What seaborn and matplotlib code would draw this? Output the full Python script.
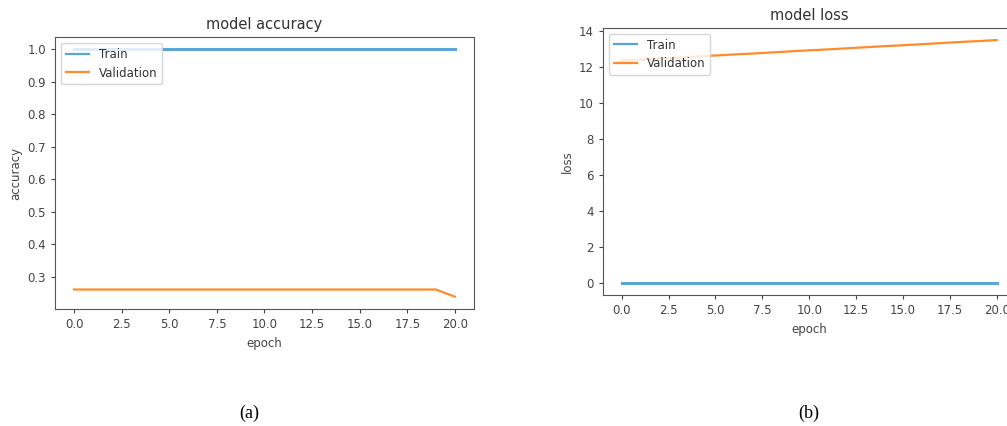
import numpy as np
import pandas as pd
import seaborn as sns
import matplotlib.pyplot as plt

# training history
epochs = list(range(21))
train_acc = [1.0] * 21
val_acc = [0.26] * 20 + [0.238]
train_loss = [0.0] * 21
val_loss = [12.35, 12.41, 12.47, 12.52, 12.58, 12.64, 12.70, 12.75, 12.81, 12.87,
             12.93, 12.98, 13.04, 13.10, 13.16, 13.21, 13.27, 13.33, 13.39, 13.44, 13.50]

acc_df = pd.DataFrame({'epoch': epochs * 2,
                       'value': train_acc + val_acc,
                       'set': ['Train'] * 21 + ['Validation'] * 21})
loss_df = pd.DataFrame({'epoch': epochs * 2,
                        'value': train_loss + val_loss,
                        'set': ['Train'] * 21 + ['Validation'] * 21})

plt.rcParams['font.family'] = 'DejaVu Sans'
palette = {'Train': '#5aa5d6', 'Validation': '#ff8c2a'}

fig = plt.figure(figsize=(10.07, 4.26), dpi=100)
ax1 = fig.add_axes([0.0546, 0.2746, 0.416, 0.6385])
ax2 = fig.add_axes([0.5988, 0.3075, 0.4096, 0.627])

for ax, df, title, ylab in [(ax1, acc_df, 'model accuracy', 'accuracy'),
                            (ax2, loss_df, 'model loss', 'loss')]:
    sns.lineplot(data=df, x='epoch', y='value', hue='set', palette=palette,
                 ax=ax, linewidth=1.6)
    ax.lines[0].set_linewidth(2.2)
    ax.set_title(title, fontsize=10.5, color='#333333')
    ax.set_xlabel('epoch', fontsize=8.5, color='#444444')
    ax.set_ylabel(ylab, fontsize=8.5, color='#444444')
    ax.tick_params(labelsize=8.5, colors='#444444', length=3)
    for s in ax.spines.values():
        s.set_color('#555555')
    ax.legend(loc='upper left', fontsize=8.5, labelcolor='#333333')

ax1.set_xticks(np.arange(0, 20.1, 2.5))
ax2.set_xticks(np.arange(0, 20.1, 2.5))
ax1.set_yticks([0.3, 0.4, 0.5, 0.6, 0.7, 0.8, 0.9, 1.0])
ax2.set_yticks([0, 2, 4, 6, 8, 10, 12, 14])

fig.text(0.248, 0.02, '(a)', fontsize=13, family='Liberation Serif', ha='center')
fig.text(0.803, 0.02, '(b)', fontsize=13, family='Liberation Serif', ha='center')

fig.savefig('out.png', dpi=100)
